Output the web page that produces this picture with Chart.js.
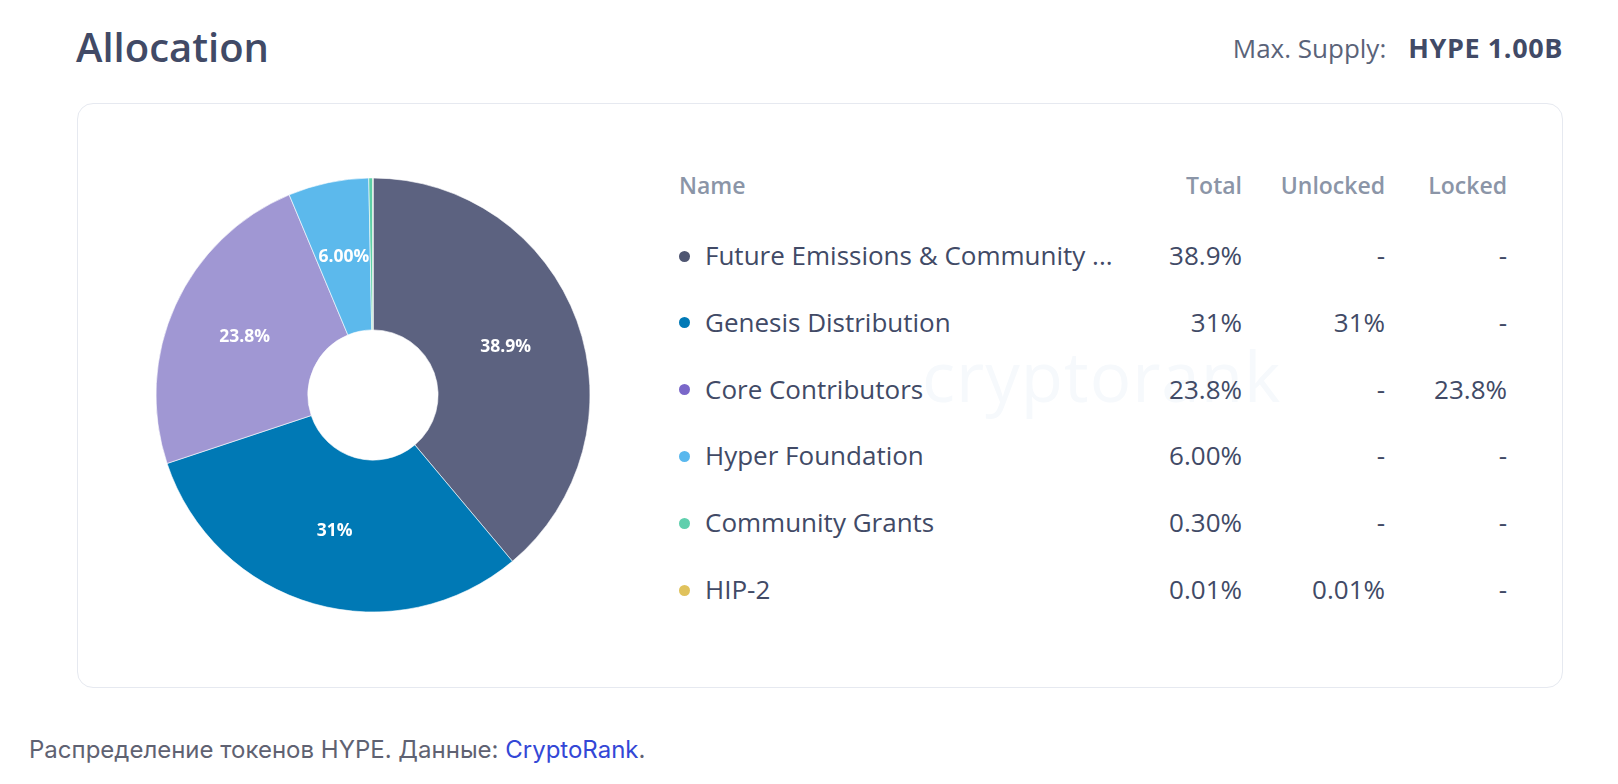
<!DOCTYPE html>
<html>
<head>
<meta charset="utf-8">
<script src="https://cdn.jsdelivr.net/npm/chart.js@4.4.1/dist/chart.umd.min.js"></script>
<style>
  html, body { margin: 0; padding: 0; background: #ffffff; width: 1618px; height: 784px; overflow: hidden; }
  body { position: relative; font-family: "Open Sans", sans-serif; }
  .abs { position: absolute; white-space: nowrap; }
  #title { left: 76px; top: 19px; font-size: 40px; font-weight: 600; color: #414a66; }
  #supply { right: 55px; top: 29px; font-size: 26px; color: #5a6379; }
  #supply b { font-weight: 700; color: #414a66; margin-left: 22px; font-size: 27px; letter-spacing: 0.6px; }
  #card { left: 77px; top: 103px; width: 1484px; height: 583px; border: 1.5px solid #e6e9f0; border-radius: 16px; }
  #wm { left: 922px; top: 328px; font-size: 69px; color: #f6f9fc; letter-spacing: 1px; }
  .hdr { top: 169px; font-size: 23px; font-weight: 600; color: #8b95a7; }
  .cell { font-size: 26px; color: #414a66; }
  .dot { position: absolute; width: 11px; height: 11px; border-radius: 50%; }
  #chartBox { position: absolute; left: 148px; top: 170px; width: 450px; height: 450px; }
  #foot { left: 29px; top: 735px; font-family: Inter, sans-serif; font-size: 24px; color: #5f6272; }
  #foot a { color: #3347d6; text-decoration: none; }
</style>
</head>
<body>
<div id="card" class="abs"></div>
<div id="wm" class="abs">cryptorank</div>
<div id="title" class="abs">Allocation</div>
<div id="supply" class="abs">Max. Supply:<b>HYPE 1.00B</b></div>
<div id="chartBox"><canvas id="c" width="450" height="450"></canvas></div>
<div id="foot" class="abs">Распределение токенов HYPE. Данные: <a>CryptoRank</a>.</div>
<script>
// ---- data ----
const names = ["Future Emissions & Community ...", "Genesis Distribution", "Core Contributors", "Hyper Foundation", "Community Grants", "HIP-2"];
const totals = [38.9, 31, 23.8, 6.00, 0.30, 0.01];
const totalLabels = ["38.9%", "31%", "23.8%", "6.00%", "0.30%", "0.01%"];
const unlockedLabels = ["-", "31%", "-", "-", "-", "0.01%"];
const lockedLabels = ["-", "-", "23.8%", "-", "-", "-"];
const sliceColors = ["#5c6280", "#0079b5", "#a097d3", "#5cb9ec", "#5ccfa6", "#e0c25c"];
const dotColors = ["#4f5672", "#0079b6", "#7a67c9", "#5ab8ee", "#5fcfad", "#e0c25c"];
const headers = ["Name", "Total", "Unlocked", "Locked"];

// ---- table ----
const colRight = [null, 1242, 1385, 1507];
function addText(txt, cls, left, right, top) {
  const d = document.createElement('div');
  d.className = 'abs ' + cls;
  d.textContent = txt;
  if (left != null) d.style.left = left + 'px';
  if (right != null) d.style.right = (1618 - right) + 'px';
  d.style.top = top + 'px';
  document.body.appendChild(d);
  return d;
}
addText(headers[0], 'hdr', 679, null, 169);
for (let i = 1; i < 4; i++) addText(headers[i], 'hdr', null, colRight[i], 169);
const rowTop0 = 237, rowStep = 66.8;
names.forEach((n, i) => {
  const top = rowTop0 + i * rowStep;
  const dot = document.createElement('div');
  dot.className = 'dot';
  dot.style.background = dotColors[i];
  dot.style.left = (684 - 5.5) + 'px';
  dot.style.top = (top + 19 - 5.5) + 'px';
  document.body.appendChild(dot);
  addText(n, 'cell', 705, null, top);
  addText(totalLabels[i], 'cell', null, colRight[1], top);
  addText(unlockedLabels[i], 'cell', null, colRight[2], top);
  addText(lockedLabels[i], 'cell', null, colRight[3], top);
});

// ---- chart ----
const labelPlugin = {
  id: 'sliceLabels',
  afterDatasetsDraw(chart) {
    const ctx = chart.ctx;
    const meta = chart.getDatasetMeta(0);
    ctx.save();
    ctx.fillStyle = '#ffffff';
    ctx.font = '700 17.5px "Open Sans"';
    ctx.textAlign = 'center';
    ctx.textBaseline = 'middle';
    meta.data.forEach((arc, i) => {
      if (totals[i] < 1) return;
      const p = arc.getCenterPoint();
      ctx.fillText(totalLabels[i], p.x, p.y);
    });
    ctx.restore();
  }
};
new Chart(document.getElementById('c'), {
  type: 'doughnut',
  data: {
    labels: names,
    datasets: [{
      data: totals,
      backgroundColor: sliceColors,
      borderColor: '#ffffff',
      borderWidth: 0.6,
      hoverOffset: 0
    }]
  },
  options: {
    responsive: false,
    animation: false,
    events: [],
    radius: 217,
    cutout: '30%',
    layout: { padding: 0 },
    plugins: { legend: { display: false }, tooltip: { enabled: false } }
  },
  plugins: [labelPlugin]
});
</script>
</body>
</html>
